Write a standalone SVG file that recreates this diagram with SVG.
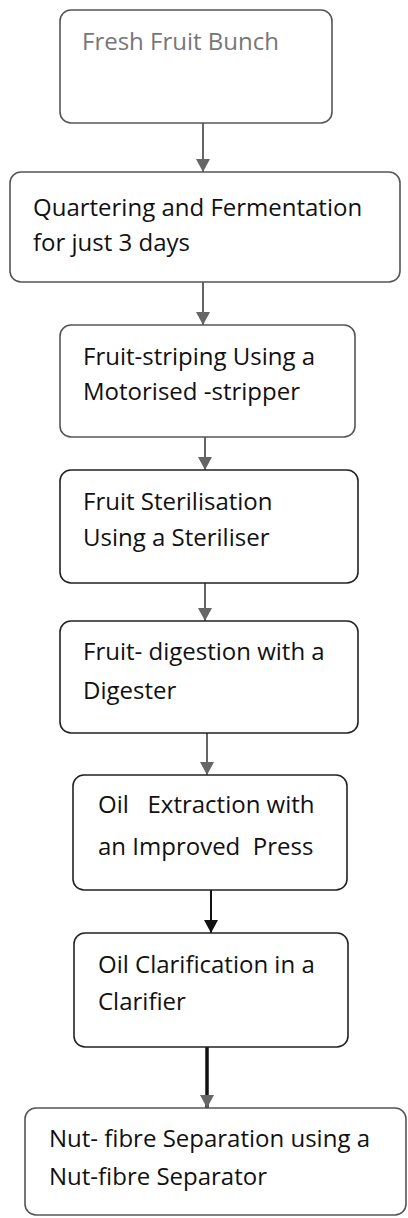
<svg xmlns="http://www.w3.org/2000/svg" width="408" height="1218" viewBox="0 0 408 1218">
<style>
.box{fill:#fff;stroke:#555;stroke-width:1.6}
.dark{stroke:#222}
.t{font-family:"Open Sans","Liberation Sans",sans-serif;font-size:24px;fill:#111}
.grey{fill:#777}
.c{stroke:#666;stroke-width:2;fill:none;marker-end:url(#ah)}
.cb{stroke:#111;stroke-width:2;fill:none;marker-end:url(#ahb)}
.ck{stroke:#111;stroke-width:3.5;fill:none;marker-end:url(#ah)}
</style>
<defs>
<marker id="ah" markerUnits="userSpaceOnUse" markerWidth="14" markerHeight="14" viewBox="0 0 14 14" refX="13" refY="7" orient="auto">
<path d="M0,0 L13,7 L0,14 Z" fill="#666"/>
</marker>
<marker id="ahb" markerUnits="userSpaceOnUse" markerWidth="14" markerHeight="14" viewBox="0 0 14 14" refX="13" refY="7" orient="auto">
<path d="M0,0 L13,7 L0,14 Z" fill="#111"/>
</marker>
</defs>
<rect width="408" height="1218" fill="#fff"/>
<g id="connectors">
<line class="c" x1="203" y1="123" x2="203" y2="172"/>
<line class="c" x1="203" y1="282" x2="203" y2="325"/>
<line class="c" x1="205" y1="437" x2="205" y2="470"/>
<line class="c" x1="205" y1="583" x2="205" y2="621"/>
<line class="c" x1="207" y1="733" x2="207" y2="775"/>
<line class="cb" x1="211" y1="890" x2="211" y2="933"/>
<line class="ck" x1="207" y1="1047" x2="207" y2="1108"/>
</g>
<g id="n1"><rect class="box" x="60" y="10" width="272" height="113" rx="11"/><text class="t grey" x="82" y="50">Fresh Fruit Bunch</text></g>
<g id="n2"><rect class="box" x="10" y="172" width="390" height="110" rx="11"/><text class="t" x="33" y="216">Quartering and Fermentation</text><text class="t" x="33" y="251">for just 3 days</text></g>
<g id="n3"><rect class="box" x="60" y="325" width="295" height="112" rx="11"/><text class="t" x="83" y="365">Fruit-striping Using a</text><text class="t" x="83" y="400">Motorised -stripper</text></g>
<g id="n4"><rect class="box dark" x="60" y="470" width="298" height="113" rx="11"/><text class="t" x="83" y="510">Fruit Sterilisation</text><text class="t" x="83" y="546">Using a Steriliser</text></g>
<g id="n5"><rect class="box dark" x="60" y="621" width="298" height="112" rx="11"/><text class="t" x="83" y="660">Fruit- digestion with a</text><text class="t" x="83" y="699">Digester</text></g>
<g id="n6"><rect class="box dark" x="73" y="775" width="274" height="115" rx="11"/><text class="t" x="98" y="813" xml:space="preserve">Oil   Extraction with</text><text class="t" x="98" y="855" xml:space="preserve">an Improved  Press</text></g>
<g id="n7"><rect class="box dark" x="74" y="933" width="274" height="114" rx="11"/><text class="t" x="98" y="973">Oil Clarification in a</text><text class="t" x="98" y="1010">Clarifier</text></g>
<g id="n8"><rect class="box" x="25" y="1108" width="381" height="107" rx="11"/><text class="t" x="49" y="1147">Nut- fibre Separation using a</text><text class="t" x="49" y="1185">Nut-fibre Separator</text></g>
</svg>
